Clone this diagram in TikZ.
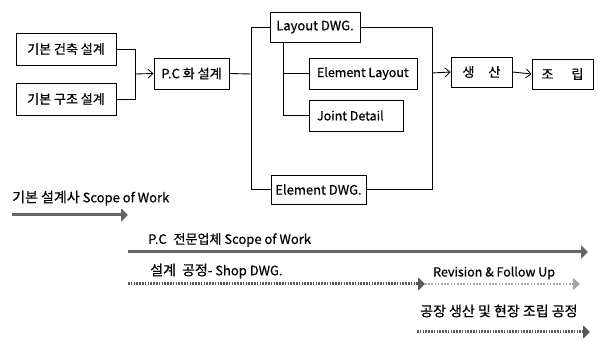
\documentclass[tikz,border=0pt]{standalone}
\usepackage{fontspec}
\setmainfont{Noto Sans CJK KR}[FakeBold=0.6]
\usetikzlibrary{arrows.meta}
\begin{document}
\begin{tikzpicture}[x=1pt,y=-1pt,
  box/.style={draw,line width=0.9pt,inner sep=0pt,font=\fontsize{13}{15}\selectfont},
  lbox/.style={box,inner xsep=8pt,font=\fontsize{12.5}{15}\selectfont},
  conn/.style={line width=0.9pt},
  open/.style={conn,-{Straight Barb[length=5pt,width=9pt,line width=0.8pt]}},
  lbl/.style={anchor=west,inner sep=0pt,font=\fontsize{13}{15}\selectfont},
  bigarrow/.style={line width=3pt,draw=black!60,-{Triangle[length=7pt,width=13pt]}},
  dotarrow/.style={line width=3pt,draw=black!65,dash pattern=on 1.6pt off 1.2pt,-{Triangle[length=7pt,width=13pt]}},
  lightarrow/.style={line width=2.5pt,draw=black!35,dash pattern=on 1.6pt off 1.6pt,-{Triangle[length=7pt,width=12pt]}}]
\useasboundingbox[fill=white] (0,0) rectangle (598,342);

% top flow boxes
\node[box,minimum width=100pt,minimum height=32pt] (a1) at (66,49) {기본 건축 설계};
\node[box,minimum width=100pt,minimum height=32pt] (a2) at (66,99) {기본 구조 설계};
\node[box,minimum width=75pt,minimum height=31pt] (pc) at (191.5,73.5) {P.C 화 설계};
\node[box,minimum width=90pt,minimum height=30pt] (lay) at (315,27) {Layout DWG.};
\node[lbox,minimum height=31pt] (el) at (363,73.5) {\makebox[92pt][l]{Element Layout}};
\node[lbox,minimum height=31pt] (jd) at (356,115.5) {\makebox[78pt][l]{Joint Detail}};
\node[box,minimum width=95pt,minimum height=29pt] (ed) at (318.5,189.5) {Element DWG.};
\node[box,minimum width=61pt,minimum height=30pt] (sa) at (481.5,72) {생\hspace{14pt}산};
\node[box,minimum width=61pt,minimum height=30pt] (jo) at (562.5,74) {조\hspace{18pt}립};

\coordinate (j1) at (135,74);
\coordinate (j2) at (251,74);
\coordinate (j4) at (283,42);
\coordinate (j3) at (432,73);

\draw[conn] (a1.east) -| (j1);
\draw[conn] (a2.east) -| (j1);
\draw[open] (j1) -- (pc.west);
\draw[conn] (pc.east) -- (j2);
\draw[conn] (j2) |- (lay.west);
\draw[conn] (j2) |- (ed.west);
\draw[conn] (j4) |- (el.west);
\draw[conn] (j4) |- (jd.west);
\draw[conn] (lay.east) -| (j3);
\draw[conn] (ed.east) -| (j3);
\draw[open] (j3) -- (sa.west);
\draw[open] (sa.east) -- (jo.west);

% scope of work section
\node[lbl] (t1) at (12,198) {{\fontsize{14}{15}\selectfont 기본 설계사} Scope of Work};
\node[lbl] (t2) at (148,240) {P.C\hspace{4pt} 전문업체 Scope of Work};
\node[lbl] (t3) at (150,271) {{\fontsize{14}{15}\selectfont 설계\hspace{3pt} 공정}- Shop DWG.};
\node[lbl,font=\fontsize{12.5}{14}\selectfont] (t4) at (433,273) {Revision \& Follow Up};
\node[lbl,font=\fontsize{14}{16}\selectfont] (t5) at (420,311) {공장 생산 및 현장 조립 공정};

\coordinate (s1) at (12,215);   \coordinate (e1) at (128,215);
\coordinate (s2) at (128,252);  \coordinate (e2) at (588,252);
\coordinate (s3) at (128,284);  \coordinate (e3) at (425,284);
\coordinate (e3b) at (580,284);
\coordinate (s4) at (417,332);  \coordinate (e4) at (590,332);

\draw[bigarrow] (s1) -- (e1);
\draw[bigarrow] (s2) -- (e2);
\draw[lightarrow] (e3) -- (e3b);
\draw[dotarrow] (s3) -- (e3);
\draw[dotarrow] (s4) -- (e4);
\end{tikzpicture}
\end{document}
